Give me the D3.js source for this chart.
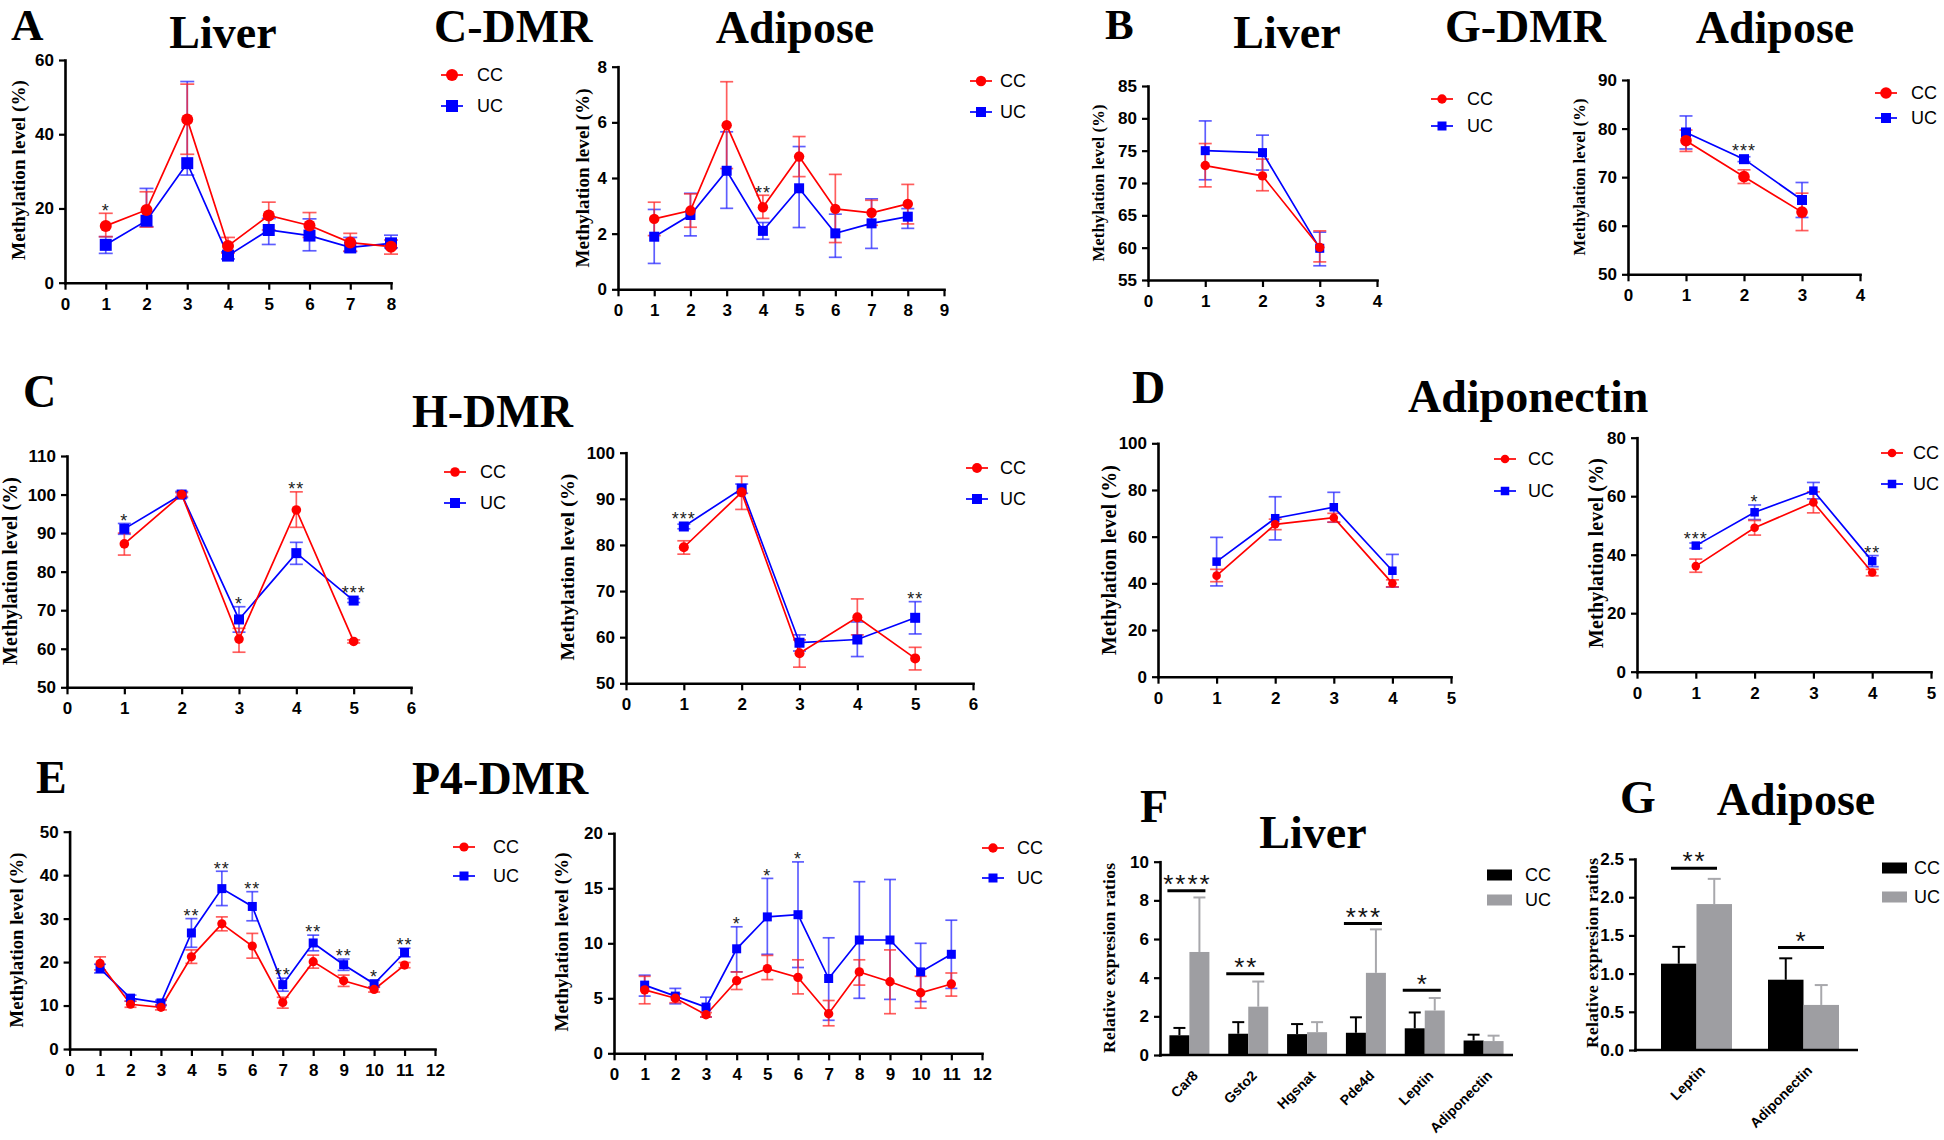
<!DOCTYPE html>
<html><head><meta charset="utf-8">
<script src="https://cdn.jsdelivr.net/npm/d3@7"></script>
<style>body{margin:0;background:#fff}svg{display:block}</style>
</head><body>
<svg id="c" width="1944" height="1140"></svg>
<script>
// ================= DATA =================
// Panel A – C-DMR, Liver
const cdmrLiverCC   = [15.3, 19.6, 44.0, 9.9, 18.1, 15.4, 10.8, 9.7];
const cdmrLiverCCHi = [18.7, 24.5, 53.5, 12.2, 21.7, 18.9, 13.3, 11.5];
const cdmrLiverCCLo = [12.4, 15.0, 34.6, 8.0, 14.2, 12.2, 8.5, 7.7];
const cdmrLiverUC   = [10.2, 16.7, 32.2, 7.3, 14.2, 12.7, 9.5, 10.6];
const cdmrLiverUCHi = [12.4, 25.4, 54.2, 8.3, 17.3, 17.2, 12.2, 12.8];
const cdmrLiverUCLo = [7.9, 15.1, 29.0, 6.4, 10.3, 8.6, 8.4, 9.4];
const cdmrLiverSig  = ["*", "", "", "", "", "", "", ""];
// Panel A – C-DMR, Adipose
const cdmrAdipCC   = [2.53, 2.83, 5.90, 2.95, 4.77, 2.89, 2.75, 3.07];
const cdmrAdipCCHi = [3.13, 3.43, 7.46, 3.38, 5.49, 4.13, 3.20, 3.77];
const cdmrAdipCCLo = [1.93, 2.23, 4.34, 2.55, 4.05, 1.68, 2.30, 2.35];
const cdmrAdipUC   = [1.89, 2.67, 4.26, 2.10, 3.63, 2.01, 2.37, 2.61];
const cdmrAdipUCHi = [2.87, 3.45, 5.66, 2.40, 5.13, 2.70, 3.25, 2.90];
const cdmrAdipUCLo = [0.93, 1.92, 2.91, 1.80, 2.22, 1.15, 1.47, 2.19];
const cdmrAdipSig  = ["", "", "", "**", "", "", "", ""];
// Panel B – G-DMR, Liver
const gdmrLiverCC   = [72.7, 71.1, 60.05];
const gdmrLiverCCHi = [76.1, 73.7, 62.6];
const gdmrLiverCCLo = [69.4, 68.8, 57.8];
const gdmrLiverUC   = [75.0, 74.7, 59.9];
const gdmrLiverUCHi = [79.6, 77.4, 62.4];
const gdmrLiverUCLo = [70.5, 72.0, 57.2];
const gdmrLiverSig  = ["", "", ""];
// Panel B – G-DMR, Adipose
const gdmrAdipCC   = [77.5, 70.1, 62.8];
const gdmrAdipCCHi = [79.7, 71.5, 66.7];
const gdmrAdipCCLo = [75.3, 68.7, 59.0];
const gdmrAdipUC   = [79.2, 73.7, 65.3];
const gdmrAdipUCHi = [82.6, 74.2, 68.9];
const gdmrAdipUCLo = [75.8, 73.2, 61.7];
const gdmrAdipSig  = ["", "***", ""];
// Panel C – H-DMR, left
const hdmrLiverCC   = [87.2, 100.0, 62.5, 96.0, 61.9];
const hdmrLiverCCHi = [90.0, 100.5, 65.3, 100.7, 62.3];
const hdmrLiverCCLo = [84.3, 99.5, 59.1, 91.5, 61.5];
const hdmrLiverUC   = [91.1, 100.0, 67.6, 84.8, 72.5];
const hdmrLiverUCHi = [92.5, 100.8, 70.9, 87.6, 73.0];
const hdmrLiverUCLo = [89.7, 99.2, 64.3, 81.9, 72.0];
const hdmrLiverSig  = ["*", "", "*", "**", "***"];
// Panel C – H-DMR, right
const hdmrAdipCC   = [79.5, 91.4, 56.5, 64.3, 55.4];
const hdmrAdipCCHi = [80.9, 94.9, 59.4, 68.3, 57.8];
const hdmrAdipCCLo = [78.0, 87.7, 53.5, 60.5, 52.9];
const hdmrAdipUC   = [84.0, 92.2, 58.8, 59.5, 64.2];
const hdmrAdipUCHi = [84.5, 93.2, 60.5, 63.3, 67.7];
const hdmrAdipUCLo = [83.5, 91.2, 57.0, 55.8, 60.7];
const hdmrAdipSig  = ["***", "", "", "", "**"];
// Panel D – Adiponectin, left
const adipoLiverCC   = [43.3, 65.3, 68.1, 40.0];
const adipoLiverCCHi = [46.0, 67.5, 70.0, 41.5];
const adipoLiverCCLo = [40.7, 63.0, 66.2, 38.5];
const adipoLiverUC   = [49.3, 67.9, 72.6, 45.4];
const adipoLiverUCHi = [59.7, 77.1, 79.0, 52.4];
const adipoLiverUCLo = [38.9, 58.6, 66.2, 38.4];
const adipoLiverSig  = ["", "", "", ""];
// Panel D – Adiponectin, right
const adipoAdipCC   = [36.1, 49.2, 57.9, 33.9];
const adipoAdipCCHi = [38.5, 51.7, 61.5, 35.0];
const adipoAdipCCLo = [34.0, 46.7, 54.3, 32.8];
const adipoAdipUC   = [43.1, 54.5, 61.9, 37.8];
const adipoAdipUCHi = [44.0, 57.0, 64.7, 39.7];
const adipoAdipUCLo = [42.2, 52.0, 59.1, 35.9];
const adipoAdipSig  = ["***", "*", "", "**"];
// Panel E – P4-DMR, left
const p4LiverCC   = [19.7, 10.3, 9.6, 21.2, 28.8, 23.7, 10.7, 20.1, 15.7, 13.7, 19.3];
const p4LiverCCHi = [21.2, 11.0, 10.2, 22.8, 30.4, 26.6, 11.9, 21.6, 17.0, 14.3, 19.9];
const p4LiverCCLo = [18.2, 9.6, 9.0, 19.7, 27.2, 20.9, 9.4, 18.6, 14.4, 13.1, 18.7];
const p4LiverUC   = [18.5, 11.7, 10.6, 26.7, 36.9, 32.8, 14.8, 24.4, 19.4, 15.0, 22.2];
const p4LiverUCHi = [19.5, 12.4, 11.2, 30.0, 40.9, 36.2, 16.3, 26.2, 20.7, 15.8, 23.2];
const p4LiverUCLo = [17.5, 11.0, 10.0, 23.4, 33.0, 29.5, 13.3, 22.6, 18.1, 14.2, 21.2];
const p4LiverSig  = ["", "", "", "**", "**", "**", "**", "**", "**", "*", "**"];
// Panel E – P4-DMR, right
const p4AdipCC   = [5.76, 5.0, 3.5, 6.6, 7.7, 6.9, 3.6, 7.4, 6.5, 5.5, 6.3];
const p4AdipCCHi = [7.0, 5.4, 3.7, 7.4, 8.9, 8.5, 4.8, 8.5, 9.4, 7.0, 7.3];
const p4AdipCCLo = [4.5, 4.6, 3.3, 5.8, 6.7, 5.4, 2.5, 6.2, 3.6, 4.1, 5.2];
const p4AdipUC   = [6.2, 5.2, 4.2, 9.5, 12.4, 12.6, 6.8, 10.3, 10.3, 7.4, 9.0];
const p4AdipUCHi = [7.1, 5.9, 5.1, 11.5, 15.9, 17.4, 10.5, 15.6, 15.8, 10.0, 12.1];
const p4AdipUCLo = [5.2, 4.5, 3.3, 7.4, 9.0, 7.8, 3.0, 5.0, 4.9, 4.7, 5.9];
const p4AdipSig  = ["", "", "", "*", "*", "*", "", "", "", "", ""];
// Panel F – Liver expression
const liverGenes   = ["Car8", "Gsto2", "Hgsnat", "Pde4d", "Leptin", "Adiponectin"];
const liverExprCC  = [1.02, 1.10, 1.08, 1.15, 1.38, 0.75];
const liverExprCCTop = [1.40, 1.70, 1.60, 1.95, 2.20, 1.05];
const liverExprUC  = [5.33, 2.50, 1.18, 4.25, 2.30, 0.72];
const liverExprUCTop = [8.15, 3.80, 1.70, 6.50, 2.95, 1.00];
const liverExprSig = ["****", "**", "", "***", "*", ""];
const liverExprSigLevel = [8.5, 4.2, null, 6.8, 3.35, null];
// Panel G – Adipose expression
const adipGenes   = ["Leptin", "Adiponectin"];
const adipExprCC  = [1.13, 0.92];
const adipExprCCTop = [1.35, 1.20];
const adipExprUC  = [1.91, 0.59];
const adipExprUCTop = [2.24, 0.85];
const adipExprSig = ["**", "*"];
const adipExprSigLevel = [2.38, 1.34];
// Ticks
const ticksA1 = [0, 20, 40, 60];
const ticksA2 = [0, 2, 4, 6, 8];
const ticksB1 = [55, 60, 65, 70, 75, 80, 85];
const ticksB2 = [50, 60, 70, 80, 90];
const ticksC1 = [50, 60, 70, 80, 90, 100, 110];
const ticksC2 = [50, 60, 70, 80, 90, 100];
const ticksD1 = [0, 20, 40, 60, 80, 100];
const ticksD2 = [0, 20, 40, 60, 80];
const ticksE1 = [0, 10, 20, 30, 40, 50];
const ticksE2 = [0, 5, 10, 15, 20];
const ticksF  = [0, 2, 4, 6, 8, 10];
const ticksG  = [0, 0.5, 1.0, 1.5, 2.0, 2.5];
const seriesNames = ["CC", "UC"];

// ================= DRAWING =================
const SANS = "'Liberation Sans', Arial, Helvetica, sans-serif";
const SERIF = "'Liberation Serif', 'Times New Roman', Times, serif";
const RED = "#ff0000", BLUE = "#0000ff";
const svg = d3.select("#c");

function styleAxis(a) {
  a.selectAll("path.domain").attr("stroke", "#000").attr("stroke-width", 2.6).attr("stroke-linecap", "square");
  a.selectAll(".tick line").attr("stroke", "#000").attr("stroke-width", 2.2);
  a.selectAll(".tick text").attr("fill", "#000").attr("font-family", SANS)
    .attr("font-weight", "bold").attr("font-size", 17);
}

function yLabel(g, text, cx, cy, len, em) {
  const fs = Math.min(20, len / em);
  g.append("text")
    .attr("transform", `translate(${cx + 0.28 * fs},${cy}) rotate(-90)`)
    .attr("text-anchor", "middle")
    .attr("font-family", SERIF).attr("font-weight", "bold").attr("font-size", fs)
    .attr("textLength", len).attr("lengthAdjust", "spacing")
    .text(text);
}

function marker(g, shape, cx, cy, r, s, color) {
  if (shape === "circle") {
    g.append("circle").attr("cx", cx).attr("cy", cy).attr("r", r).attr("fill", color);
  } else {
    g.append("rect").attr("x", cx - s / 2).attr("y", cy - s / 2).attr("width", s).attr("height", s).attr("fill", color);
  }
}

function linePanel(p) {
  const g = svg.append("g");
  const x = d3.scaleLinear().domain([0, p.xmax]).range([p.px0, p.px1]);
  const y = d3.scaleLinear().domain(p.ydom).range([p.pyB, p.pyT]);
  const xa = g.append("g").attr("transform", `translate(0,${p.pyB})`)
    .call(d3.axisBottom(x).tickValues(d3.range(0, p.xmax + 1)).tickFormat(d3.format("d"))
      .tickSize(7).tickSizeOuter(0).tickPadding(8));
  const ya = g.append("g").attr("transform", `translate(${p.px0},0)`)
    .call(d3.axisLeft(y).tickValues(p.yticks).tickFormat(d3.format("d"))
      .tickSize(6).tickSizeOuter(0).tickPadding(5));
  styleAxis(xa); styleAxis(ya);

  const series = [
    { m: p.uc, hi: p.ucHi, lo: p.ucLo, color: BLUE, err: "rgba(40,40,255,0.75)", shape: "square" },
    { m: p.cc, hi: p.ccHi, lo: p.ccLo, color: RED, err: "rgba(255,40,40,0.75)", shape: "circle" }
  ];
  const cap = p.cap || 6.5;
  series.forEach(s => {
    const eb = g.append("g").attr("stroke", s.err).attr("stroke-width", 1.7);
    s.m.forEach((v, i) => {
      const cx = x(i + 1);
      eb.append("line").attr("x1", cx).attr("x2", cx).attr("y1", y(s.lo[i])).attr("y2", y(s.hi[i]));
      [s.lo[i], s.hi[i]].forEach(b => eb.append("line")
        .attr("x1", cx - cap).attr("x2", cx + cap).attr("y1", y(b)).attr("y2", y(b)));
    });
  });
  series.forEach(s => {
    g.append("path").datum(s.m)
      .attr("d", d3.line().x((d, i) => x(i + 1)).y(d => y(d)))
      .attr("fill", "none").attr("stroke", s.color).attr("stroke-width", 1.7);
  });
  series.forEach(s => {
    s.m.forEach((v, i) => marker(g, s.shape, x(i + 1), y(v), p.r, p.s, s.color));
  });
  // significance stars
  p.sig.forEach((t, i) => {
    if (!t) return;
    const top = Math.min(y(p.ccHi[i]), y(p.ucHi[i]), y(p.cc[i]) - p.r, y(p.uc[i]) - p.s / 2);
    const c = top - 7;
    g.append("text").attr("x", x(i + 1)).attr("y", c + 0.57 * 18)
      .attr("text-anchor", "middle").attr("font-family", SANS).attr("font-size", 18)
      .attr("letter-spacing", 1).attr("fill", "#222").text(t);
  });
  // legend
  const L = p.leg;
  [[RED, "circle", L.y1, seriesNames[0]], [BLUE, "square", L.y2, seriesNames[1]]].forEach(([col, sh, ly, name]) => {
    g.append("line").attr("x1", L.x - 11).attr("x2", L.x + 11).attr("y1", ly).attr("y2", ly)
      .attr("stroke", col).attr("stroke-width", 1.7);
    marker(g, sh, L.x, ly, p.r, p.s, col);
    g.append("text").attr("x", L.tx).attr("y", ly).attr("dy", "0.36em")
      .attr("font-family", SANS).attr("font-size", 18).text(name);
  });
  yLabel(g, "Methylation level (%)", p.lab.x, p.lab.y, p.lab.len, 9.4);
}

function barPanel(p) {
  const g = svg.append("g");
  const x = d3.scaleBand().domain(p.cats).range([p.bx0, p.bx1]);
  const y = d3.scaleLinear().domain(p.ydom).range([p.pyB, p.pyT]);
  const grp = d3.scaleBand().domain(seriesNames).range([-p.bw, p.bw]);
  const ya = g.append("g").attr("transform", `translate(${p.px0},0)`)
    .call(d3.axisLeft(y).tickValues(p.yticks).tickFormat(p.fmt).tickSize(6).tickSizeOuter(0).tickPadding(5));
  styleAxis(ya);
  const sets = [
    { name: "CC", m: p.cc, top: p.ccTop, fill: "#000000", err: "#000000" },
    { name: "UC", m: p.uc, top: p.ucTop, fill: "#9e9ea2", err: "#a8a8ac" }
  ];
  sets.forEach(s => {
    s.m.forEach((v, i) => {
      const bx = x(p.cats[i]) + x.bandwidth() / 2 + grp(s.name);
      const cx = bx + grp.bandwidth() / 2;
      g.append("line").attr("x1", cx).attr("x2", cx).attr("y1", y(v)).attr("y2", y(s.top[i]))
        .attr("stroke", s.err).attr("stroke-width", 2);
      g.append("line").attr("x1", cx - p.cap).attr("x2", cx + p.cap).attr("y1", y(s.top[i])).attr("y2", y(s.top[i]))
        .attr("stroke", s.err).attr("stroke-width", 2);
      g.append("rect").attr("x", bx).attr("y", y(v)).attr("width", grp.bandwidth())
        .attr("height", y(0) - y(v)).attr("fill", s.fill);
    });
  });
  // x axis
  const xa = g.append("g").attr("transform", `translate(0,${p.pyB})`)
    .call(d3.axisBottom(x).tickSize(0).tickPadding(0));
  xa.select("path.domain").remove();
  styleAxis(xa);
  xa.selectAll(".tick text").attr("font-size", 14)
    .attr("text-anchor", "end").attr("y", 0).attr("dy", "0.35em")
    .attr("transform", "translate(6,18) rotate(-45)");
  g.append("line").attr("x1", p.px0 - 1).attr("x2", p.px1).attr("y1", p.pyB).attr("y2", p.pyB)
    .attr("stroke", "#000").attr("stroke-width", 2.6);
  // significance
  p.sig.forEach((t, i) => {
    if (!t) return;
    const c = x(p.cats[i]) + x.bandwidth() / 2;
    const ly = y(p.sigLevel[i]);
    g.append("line").attr("x1", c - p.bw + p.lin[0]).attr("x2", c + p.bw - p.lin[1])
      .attr("y1", ly).attr("y2", ly).attr("stroke", "#000").attr("stroke-width", 3);
    g.append("text").attr("x", c - 2).attr("y", ly - 12.5 + 0.57 * 26)
      .attr("text-anchor", "middle").attr("font-family", SANS).attr("font-size", 26)
      .attr("letter-spacing", 2).attr("fill", "#111").text(t);
  });
  // legend
  const L = p.leg;
  [["#000000", L.y1, "CC"], ["#9e9ea2", L.y2, "UC"]].forEach(([col, ly, name]) => {
    g.append("rect").attr("x", L.x).attr("y", ly - 5.5).attr("width", 25).attr("height", 11).attr("fill", col);
    g.append("text").attr("x", L.tx).attr("y", ly).attr("dy", "0.36em")
      .attr("font-family", SANS).attr("font-size", 18).text(name);
  });
  yLabel(g, "Relative  expresion ratios", p.lab.x, p.lab.y, p.lab.len, 10.8);
}

// ---- titles ----
function title(t, x, y, anchor, fs) {
  svg.append("text").attr("x", x).attr("y", y).attr("text-anchor", anchor || "start")
    .attr("font-family", SERIF).attr("font-weight", "bold").attr("font-size", fs || 46).text(t);
}
title("A", 11, 40, "start", 45); title("Liver", 223, 48, "middle"); title("C-DMR", 434, 42);
title("Adipose", 795, 43, "middle");
title("B", 1105, 39, "start", 43); title("Liver", 1287, 48, "middle"); title("G-DMR", 1445, 42);
title("Adipose", 1775, 43, "middle");
title("C", 23, 407); title("H-DMR", 412, 427);
title("D", 1132, 403); title("Adiponectin", 1408, 412);
title("E", 36, 793); title("P4-DMR", 412, 794);
title("F", 1140, 822); title("Liver", 1313, 848, "middle");
title("G", 1620, 813); title("Adipose", 1796, 815, "middle");

// ---- panels ----
linePanel({ xmax: 8, px0: 65, px1: 391, ydom: [0, 60], pyB: 282.7, pyT: 60, yticks: ticksA1,
  cc: cdmrLiverCC, ccHi: cdmrLiverCCHi, ccLo: cdmrLiverCCLo, uc: cdmrLiverUC, ucHi: cdmrLiverUCHi, ucLo: cdmrLiverUCLo,
  sig: cdmrLiverSig, r: 6, s: 12, cap: 7, leg: { x: 452, y1: 75, y2: 106, tx: 477 }, lab: { x: 20, y: 170, len: 180 } });
linePanel({ xmax: 9, px0: 618, px1: 944, ydom: [0, 8], pyB: 289.3, pyT: 66.7, yticks: ticksA2,
  cc: cdmrAdipCC, ccHi: cdmrAdipCCHi, ccLo: cdmrAdipCCLo, uc: cdmrAdipUC, ucHi: cdmrAdipUCHi, ucLo: cdmrAdipUCLo,
  sig: cdmrAdipSig, r: 5.2, s: 10, leg: { x: 981, y1: 81, y2: 112, tx: 1000 }, lab: { x: 584, y: 178, len: 179 } });
linePanel({ xmax: 4, px0: 1148, px1: 1377, ydom: [55, 85], pyB: 280, pyT: 86, yticks: ticksB1,
  cc: gdmrLiverCC, ccHi: gdmrLiverCCHi, ccLo: gdmrLiverCCLo, uc: gdmrLiverUC, ucHi: gdmrLiverUCHi, ucLo: gdmrLiverUCLo,
  sig: gdmrLiverSig, r: 4.7, s: 9, leg: { x: 1442, y1: 99, y2: 126, tx: 1467 }, lab: { x: 1099, y: 183, len: 157 } });
linePanel({ xmax: 4, px0: 1628, px1: 1860, ydom: [50, 90], pyB: 274.3, pyT: 80, yticks: ticksB2,
  cc: gdmrAdipCC, ccHi: gdmrAdipCCHi, ccLo: gdmrAdipCCLo, uc: gdmrAdipUC, ucHi: gdmrAdipUCHi, ucLo: gdmrAdipUCLo,
  sig: gdmrAdipSig, r: 5.8, s: 10, leg: { x: 1886, y1: 93, y2: 118, tx: 1911 }, lab: { x: 1580, y: 177, len: 157 } });
linePanel({ xmax: 6, px0: 67, px1: 411, ydom: [50, 110], pyB: 687.3, pyT: 456, yticks: ticksC1,
  cc: hdmrLiverCC, ccHi: hdmrLiverCCHi, ccLo: hdmrLiverCCLo, uc: hdmrLiverUC, ucHi: hdmrLiverUCHi, ucLo: hdmrLiverUCLo,
  sig: hdmrLiverSig, r: 4.8, s: 10, leg: { x: 455, y1: 472, y2: 503, tx: 480 }, lab: { x: 11, y: 571, len: 188 } });
linePanel({ xmax: 6, px0: 626, px1: 973, ydom: [50, 100], pyB: 683.3, pyT: 452.7, yticks: ticksC2,
  cc: hdmrAdipCC, ccHi: hdmrAdipCCHi, ccLo: hdmrAdipCCLo, uc: hdmrAdipUC, ucHi: hdmrAdipUCHi, ucLo: hdmrAdipUCLo,
  sig: hdmrAdipSig, r: 5, s: 10, leg: { x: 977, y1: 468, y2: 499, tx: 1000 }, lab: { x: 568, y: 567, len: 187 } });
linePanel({ xmax: 5, px0: 1158, px1: 1451, ydom: [0, 100], pyB: 676.7, pyT: 443.3, yticks: ticksD1,
  cc: adipoLiverCC, ccHi: adipoLiverCCHi, ccLo: adipoLiverCCLo, uc: adipoLiverUC, ucHi: adipoLiverUCHi, ucLo: adipoLiverUCLo,
  sig: adipoLiverSig, r: 4.3, s: 8.5, leg: { x: 1505, y1: 459, y2: 491, tx: 1528 }, lab: { x: 1110, y: 560, len: 190 } });
linePanel({ xmax: 5, px0: 1637, px1: 1931, ydom: [0, 80], pyB: 671.7, pyT: 437.7, yticks: ticksD2,
  cc: adipoAdipCC, ccHi: adipoAdipCCHi, ccLo: adipoAdipCCLo, uc: adipoAdipUC, ucHi: adipoAdipUCHi, ucLo: adipoAdipUCLo,
  sig: adipoAdipSig, r: 4.3, s: 8.5, leg: { x: 1892, y1: 453, y2: 484, tx: 1913 }, lab: { x: 1597, y: 553, len: 190 } });
linePanel({ xmax: 12, px0: 69.6, px1: 435, ydom: [0, 50], pyB: 1049, pyT: 831.7, yticks: ticksE1,
  cc: p4LiverCC, ccHi: p4LiverCCHi, ccLo: p4LiverCCLo, uc: p4LiverUC, ucHi: p4LiverUCHi, ucLo: p4LiverUCLo,
  sig: p4LiverSig, r: 4.6, s: 9, cap: 6, leg: { x: 464, y1: 847, y2: 876, tx: 493 }, lab: { x: 18, y: 940, len: 175 } });
linePanel({ xmax: 12, px0: 614, px1: 982, ydom: [0, 20], pyB: 1053.3, pyT: 833.3, yticks: ticksE2,
  cc: p4AdipCC, ccHi: p4AdipCCHi, ccLo: p4AdipCCLo, uc: p4AdipUC, ucHi: p4AdipUCHi, ucLo: p4AdipUCLo,
  sig: p4AdipSig, r: 4.7, s: 9, cap: 6, leg: { x: 993, y1: 848, y2: 878, tx: 1017 }, lab: { x: 563, y: 942, len: 179 } });

barPanel({ cats: liverGenes, bx0: 1160, bx1: 1513, px0: 1160, px1: 1513, bw: 20, cap: 6,
  ydom: [0, 10], pyB: 1055, pyT: 861.7, yticks: ticksF, fmt: d3.format("d"),
  cc: liverExprCC, ccTop: liverExprCCTop, uc: liverExprUC, ucTop: liverExprUCTop,
  sig: liverExprSig, sigLevel: liverExprSigLevel, lin: [-2, 4],
  leg: { x: 1487, y1: 875, y2: 900, tx: 1525 }, lab: { x: 1110, y: 958, len: 190 } });
barPanel({ cats: adipGenes, bx0: 1643, bx1: 1857, px0: 1635, px1: 1858, bw: 35.5, cap: 6.5,
  ydom: [0, 2.5], pyB: 1050, pyT: 859, yticks: ticksG, fmt: d3.format(".1f"),
  cc: adipExprCC, ccTop: adipExprCCTop, uc: adipExprUC, ucTop: adipExprUCTop,
  sig: adipExprSig, sigLevel: adipExprSigLevel, lin: [10, 15],
  leg: { x: 1882, y1: 868, y2: 897, tx: 1914 }, lab: { x: 1593, y: 953, len: 190 } });
</script>
</body></html>
